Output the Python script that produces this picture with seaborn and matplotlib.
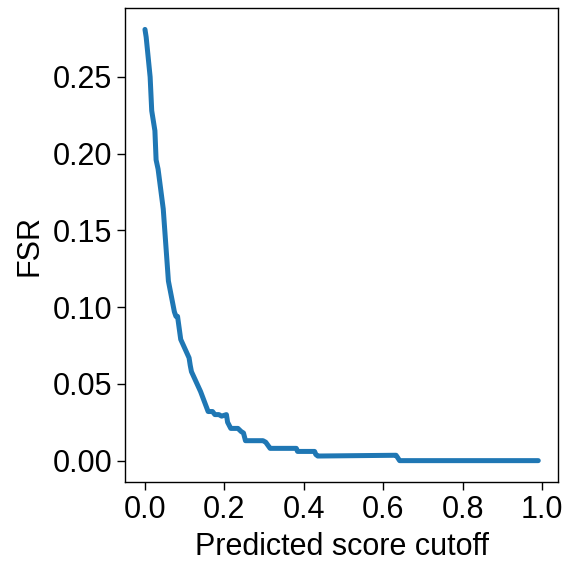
import numpy as np
import pandas as pd
import matplotlib
matplotlib.use("Agg")
import matplotlib.pyplot as plt
import seaborn as sns

# cutoff values and FSR
cutoff = [0.000, 0.003, 0.013, 0.017, 0.025, 0.028, 0.033, 0.046, 0.059,
          0.074, 0.078, 0.082, 0.090, 0.104, 0.111, 0.114, 0.117, 0.140,
          0.159, 0.170, 0.176, 0.186, 0.193, 0.205, 0.208, 0.216, 0.234,
          0.242, 0.248, 0.253, 0.297, 0.304, 0.315, 0.322, 0.381, 0.384,
          0.389, 0.427, 0.430, 0.435, 0.632, 0.636, 0.641, 0.990]
fsr = [0.281, 0.276, 0.250, 0.228, 0.215, 0.196, 0.190, 0.164, 0.117,
       0.097, 0.094, 0.094, 0.079, 0.071, 0.067, 0.062, 0.058, 0.045,
       0.032, 0.032, 0.030, 0.030, 0.029, 0.030, 0.025, 0.021, 0.021,
       0.019, 0.018, 0.013, 0.013, 0.012, 0.008, 0.008, 0.008, 0.006,
       0.006, 0.006, 0.004, 0.003, 0.0035, 0.002, 0.000, 0.000]

df = pd.DataFrame({"cutoff": cutoff, "fsr": fsr})

sns.set_style("ticks")
plt.rcParams['font.family'] = ['Liberation Sans', 'DejaVu Sans']
plt.rcParams['text.color'] = 'black'
plt.rcParams['axes.labelcolor'] = 'black'
plt.rcParams['xtick.color'] = 'black'
plt.rcParams['ytick.color'] = 'black'

fig, ax = plt.subplots(figsize=(5.67, 5.62), dpi=100)
sns.lineplot(data=df, x="cutoff", y="fsr", ax=ax, color="#1f77b4",
             linewidth=3.6, estimator=None, sort=False)

ax.set_xlabel("Predicted score cutoff", fontsize=22, labelpad=5)
ax.set_ylabel("FSR", fontsize=22, labelpad=6)
ax.set_xticks([0.0, 0.2, 0.4, 0.6, 0.8, 1.0])
ax.set_yticks([0.00, 0.05, 0.10, 0.15, 0.20, 0.25])
ax.tick_params(labelsize=22, length=6, width=1)
for s in ax.spines.values():
    s.set_visible(True)
    s.set_color("black")
    s.set_linewidth(1)

fig.subplots_adjust(left=0.221, right=0.984, top=0.986, bottom=0.142)
plt.savefig("out.png", dpi=100)
plt.close()
